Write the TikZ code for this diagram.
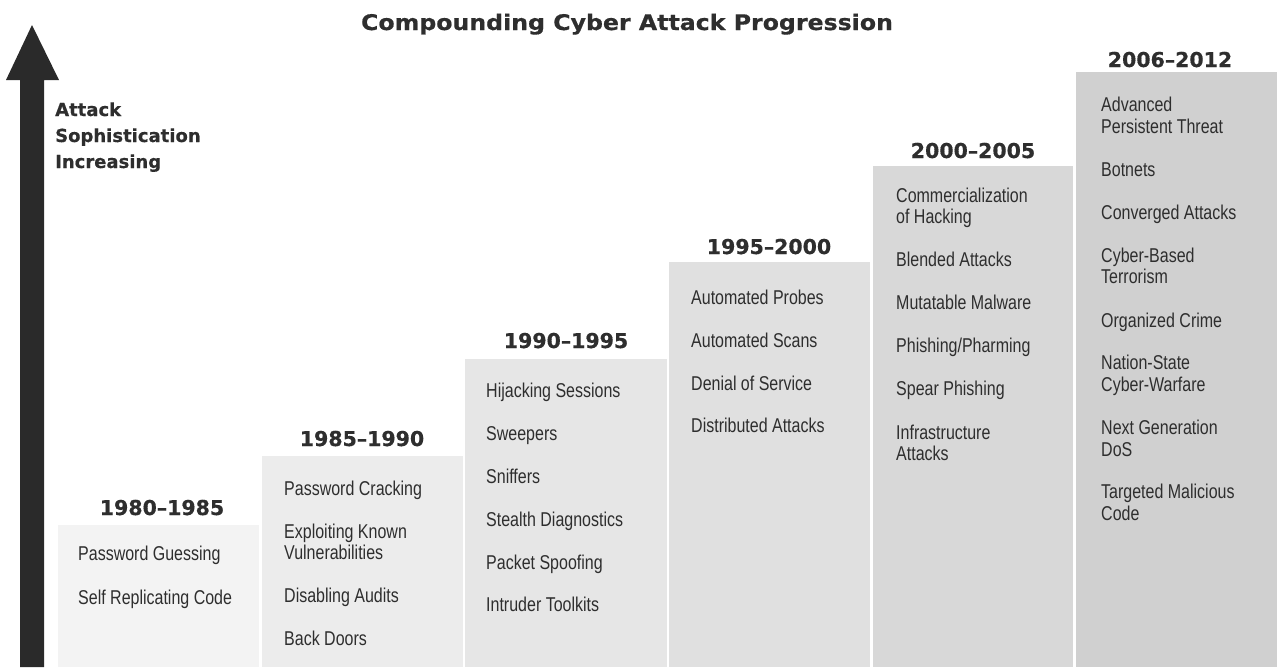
\documentclass[tikz,border=0pt]{standalone}
\usepackage{fontspec}
\setmainfont{Liberation Sans}
\newfontfamily\itemfont[FakeStretch=0.8]{Liberation Sans}
\newfontfamily\headfont[BoldFeatures={FakeBold=0.5}]{DejaVu Sans}
\newfontfamily\titlefont[FakeStretch=1.1,BoldFeatures={FakeBold=0.6}]{DejaVu Sans}
\definecolor{ink}{HTML}{2E2E2E}
\definecolor{arrowink}{HTML}{2A2A2A}
\definecolor{eraA}{HTML}{F3F3F3}
\definecolor{eraB}{HTML}{ECECEC}
\definecolor{eraC}{HTML}{E6E6E6}
\definecolor{eraD}{HTML}{E0E0E0}
\definecolor{eraE}{HTML}{D8D8D8}
\definecolor{eraF}{HTML}{D0D0D0}
\tikzset{
  yearlabel/.style={anchor=base, inner sep=0pt, text=ink,
    font=\headfont\bfseries\fontsize{20.5}{24}\selectfont},
  titlelabel/.style={anchor=base, inner sep=0pt, text=ink,
    font=\titlefont\bfseries\fontsize{21.5}{24}\selectfont},
  entry/.style={anchor=base west, inner sep=0pt, text=ink,
    font=\itemfont\fontsize{20}{21}\selectfont},
  axislabel/.style={anchor=base west, inner sep=0pt, text=ink,
    font=\headfont\bfseries\fontsize{18}{26}\selectfont},
}
\begin{document}
\begin{tikzpicture}[x=1pt,y=-1pt]
\useasboundingbox (0,0) rectangle (1277,667);

% title
\node[titlelabel] (title) at (627,30) {Compounding Cyber Attack Progression};

% rising axis arrow
\fill[arrowink] (20,667) -- (20,80) -- (6,80) -- (32,25) -- (59,80) -- (44,80) -- (44,667) -- cycle;
\node[axislabel] (ax1) at (55,116) {Attack};
\node[axislabel] (ax2) at (55,142) {Sophistication};
\node[axislabel] (ax3) at (55,168) {Increasing};

% era blocks, each a step higher and darker
\fill[eraA] (58,525) rectangle (259,667);
\fill[eraB] (262,456) rectangle (463,667);
\fill[eraC] (465,359) rectangle (667,667);
\fill[eraD] (669,262) rectangle (870,667);
\fill[eraE] (873,166) rectangle (1073,667);
\fill[eraF] (1076,72) rectangle (1277,667);

% 1980-1985
\node[yearlabel] (y1) at (162,515) {1980–1985};
\node[entry] (a1) at (78,560) {Password Guessing};
\node[entry] (a2) at (78,604) {Self Replicating Code};

% 1985-1990
\node[yearlabel] (y2) at (362,446) {1985–1990};
\node[entry] (b1) at (284,495) {Password Cracking};
\node[entry] (b2) at (284,538) {Exploiting Known};
\node[entry] (b3) at (284,559) {Vulnerabilities};
\node[entry] (b4) at (284,602) {Disabling Audits};
\node[entry] (b5) at (284,645) {Back Doors};

% 1990-1995
\node[yearlabel] (y3) at (566,348) {1990–1995};
\node[entry] (c1) at (486,397) {Hijacking Sessions};
\node[entry] (c2) at (486,440) {Sweepers};
\node[entry] (c3) at (486,483) {Sniffers};
\node[entry] (c4) at (486,526) {Stealth Diagnostics};
\node[entry] (c5) at (486,569) {Packet Spoofing};
\node[entry] (c6) at (486,611) {Intruder Toolkits};

% 1995-2000
\node[yearlabel] (y4) at (769,254) {1995–2000};
\node[entry] (d1) at (691,304) {Automated Probes};
\node[entry] (d2) at (691,347) {Automated Scans};
\node[entry] (d3) at (691,390) {Denial of Service};
\node[entry] (d4) at (691,432) {Distributed Attacks};

% 2000-2005
\node[yearlabel] (y5) at (973,158) {2000–2005};
\node[entry] (e1) at (896,202) {Commercialization};
\node[entry] (e2) at (896,223) {of Hacking};
\node[entry] (e3) at (896,266) {Blended Attacks};
\node[entry] (e4) at (896,309) {Mutatable Malware};
\node[entry] (e5) at (896,352) {Phishing/Pharming};
\node[entry] (e6) at (896,395) {Spear Phishing};
\node[entry] (e7) at (896,439) {Infrastructure};
\node[entry] (e8) at (896,460) {Attacks};

% 2006-2012
\node[yearlabel] (y6) at (1170,67) {2006–2012};
\node[entry] (f1) at (1101,111) {Advanced};
\node[entry] (f2) at (1101,133) {Persistent Threat};
\node[entry] (f3) at (1101,176) {Botnets};
\node[entry] (f4) at (1101,219) {Converged Attacks};
\node[entry] (f5) at (1101,262) {Cyber-Based};
\node[entry] (f6) at (1101,283) {Terrorism};
\node[entry] (f7) at (1101,327) {Organized Crime};
\node[entry] (f8) at (1101,369) {Nation-State};
\node[entry] (f9) at (1101,391) {Cyber-Warfare};
\node[entry] (f10) at (1101,434) {Next Generation};
\node[entry] (f11) at (1101,456) {DoS};
\node[entry] (f12) at (1101,498) {Targeted Malicious};
\node[entry] (f13) at (1101,520) {Code};
\end{tikzpicture}
\end{document}
